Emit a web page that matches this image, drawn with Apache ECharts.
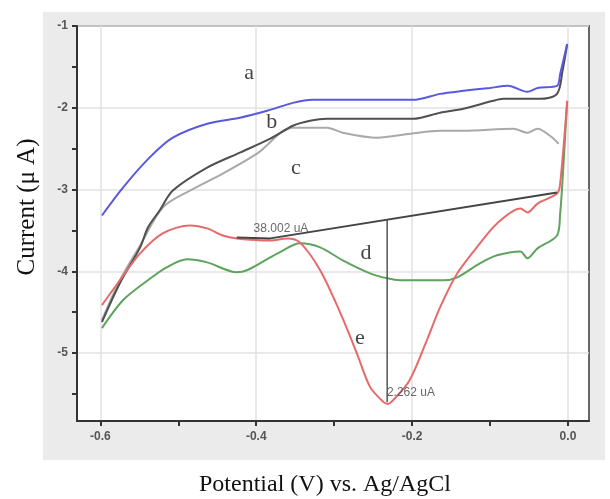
<!DOCTYPE html>
<html>
<head>
<meta charset="utf-8">
<script src="https://cdn.jsdelivr.net/npm/echarts@6/dist/echarts.min.js"></script>
<style>html,body{margin:0;padding:0;background:#fff;}#c{width:610px;height:499px;}</style>
</head>
<body>
<div id="c"></div>
<script>
// Potential (V) , Current (uA) pairs
const curveA = [[-0.598,-3.317],[-0.571,-2.976],[-0.537,-2.610],[-0.507,-2.366],[-0.463,-2.196],[-0.421,-2.122],[-0.386,-2.037],[-0.353,-1.940],[-0.327,-1.903],[-0.303,-1.903],[-0.199,-1.903],[-0.164,-1.830],[-0.134,-1.793],[-0.100,-1.757],[-0.077,-1.732],[-0.052,-1.805],[-0.039,-1.757],[-0.014,-1.732],[-0.010,-1.586],[-0.001,-1.220]];
const curveB = [[-0.598,-4.621],[-0.575,-4.146],[-0.549,-3.707],[-0.539,-3.463],[-0.524,-3.256],[-0.507,-3.012],[-0.463,-2.732],[-0.421,-2.549],[-0.382,-2.378],[-0.353,-2.220],[-0.331,-2.159],[-0.309,-2.135],[-0.199,-2.135],[-0.164,-2.061],[-0.134,-2.013],[-0.096,-1.915],[-0.083,-1.891],[-0.036,-1.891],[-0.014,-1.830],[-0.007,-1.550],[-0.001,-1.220]];
const curveC = [[-0.598,-4.597],[-0.575,-4.109],[-0.549,-3.683],[-0.520,-3.219],[-0.485,-3.012],[-0.443,-2.805],[-0.399,-2.561],[-0.353,-2.244],[-0.309,-2.244],[-0.289,-2.305],[-0.245,-2.366],[-0.202,-2.317],[-0.164,-2.281],[-0.134,-2.281],[-0.070,-2.256],[-0.052,-2.305],[-0.039,-2.256],[-0.023,-2.342],[-0.012,-2.439]];
const curveD = [[-0.598,-4.694],[-0.571,-4.353],[-0.539,-4.109],[-0.515,-3.951],[-0.489,-3.853],[-0.463,-3.890],[-0.425,-4.012],[-0.412,-3.987],[-0.382,-3.829],[-0.370,-3.768],[-0.344,-3.658],[-0.318,-3.707],[-0.289,-3.865],[-0.254,-4.024],[-0.232,-4.085],[-0.215,-4.109],[-0.160,-4.109],[-0.142,-4.073],[-0.113,-3.902],[-0.091,-3.804],[-0.061,-3.756],[-0.052,-3.841],[-0.039,-3.719],[-0.014,-3.561],[-0.010,-3.293],[-0.007,-2.890],[-0.001,-1.915]];
const curveE = [[-0.598,-4.414],[-0.575,-4.109],[-0.549,-3.780],[-0.520,-3.536],[-0.485,-3.439],[-0.463,-3.475],[-0.443,-3.561],[-0.425,-3.597],[-0.382,-3.622],[-0.360,-3.597],[-0.344,-3.646],[-0.318,-3.987],[-0.292,-4.511],[-0.271,-4.999],[-0.254,-5.413],[-0.237,-5.596],[-0.231,-5.621],[-0.224,-5.572],[-0.203,-5.328],[-0.181,-4.841],[-0.164,-4.438],[-0.142,-4.024],[-0.113,-3.658],[-0.091,-3.414],[-0.061,-3.232],[-0.052,-3.280],[-0.039,-3.171],[-0.014,-3.049],[-0.010,-2.927],[-0.001,-1.915]];
const baseLine = [[-0.425,-3.585],[-0.382,-3.597],[-0.014,-3.037]];
const peakLine = [[-0.232,-3.369],[-0.232,-5.600]];
const curveLabels = [[-0.409,-1.574,'a'],[-0.380,-2.171,'b'],[-0.349,-2.744,'c'],[-0.259,-3.780,'d'],[-0.267,-4.816,'e']];
const noteLabels = [[-0.404,-3.475,'38.002 uA'],[-0.233,-5.487,'2.262 uA']];
const xMajor = [-0.6,-0.4,-0.2,0.0];
const xAllTicks = [-0.6,-0.5,-0.4,-0.3,-0.2,-0.1,0.0];
const yMajor = [-5,-4,-3,-2,-1];
const yAllTicks = [-5.5,-5,-4.5,-4,-3.5,-3,-2.5,-2,-1.5,-1];
const xRange = [-0.630, 0.027];
const yRange = [-5.83, -1];
const xTitle = 'Potential (V) vs. Ag/AgCl';
const yTitle = 'Current (\u03bc A)';

const chart = echarts.init(document.getElementById('c'), null, {renderer:'canvas'});
const tickFont = {fontFamily:'Liberation Sans, Arial, sans-serif', fontSize:12, fontWeight:'bold', color:'#555'};
function lineSeries(data, color, width, z){
  return {type:'line', data:data, showSymbol:false, symbol:'none', smooth:0.3,
    lineStyle:{color:color, width:width}, z:z||2, animation:false, silent:true};
}
const option = {
  animation:false,
  graphic:[
    {type:'rect', z:-100, shape:{x:43,y:12,width:562,height:448}, style:{fill:'#ebebeb'}},
    {type:'text', x:27, y:207, rotation:Math.PI/2, style:{text:yTitle, font:'25px "Liberation Serif", "Times New Roman", serif', fill:'#111', align:'center', verticalAlign:'middle'}},
    {type:'text', x:325, y:485, style:{text:xTitle, font:'24px "Liberation Serif", "Times New Roman", serif', fill:'#111', align:'center', verticalAlign:'middle'}}
  ],
  grid:{left:77, top:26, right:21, bottom:78, show:true, backgroundColor:'#fff', borderColor:'#666', borderWidth:2},
  xAxis:[
    {type:'value', min:xRange[0], max:xRange[1], splitNumber:3,
     axisLine:{show:true, onZero:false, lineStyle:{color:'#333', width:2}},
     axisTick:{show:true, length:5, customValues:xAllTicks, lineStyle:{color:'#333', width:2}},
     axisLabel:{customValues:xMajor, margin:10, formatter:v=>v.toFixed(1), ...tickFont},
     splitLine:{show:false}},
    {type:'value', min:xRange[0], max:xRange[1], splitNumber:3, position:'bottom',
     axisLine:{show:false}, axisLabel:{show:false},
     axisTick:{show:false, customValues:xMajor},
     splitLine:{show:true, lineStyle:{color:'#e2e2e2', width:1.5}}}
  ],
  yAxis:[
    {type:'value', min:yRange[0], max:yRange[1], splitNumber:5,
     axisLine:{show:true, onZero:false, lineStyle:{color:'#333', width:2}},
     axisTick:{show:true, length:5, customValues:yAllTicks, lineStyle:{color:'#333', width:2}},
     axisLabel:{customValues:yMajor, margin:9, formatter:v=>String(v), ...tickFont},
     splitLine:{show:false}},
    {type:'value', min:yRange[0], max:yRange[1], splitNumber:5,
     axisLine:{show:false}, axisLabel:{show:false},
     axisTick:{show:false, customValues:yMajor},
     splitLine:{show:true, lineStyle:{color:'#e2e2e2', width:1.5}}}
  ],
  series:[
    lineSeries(curveC, '#a9a9a9', 2, 2),
    lineSeries(curveB, '#505050', 2, 3),
    lineSeries(curveA, '#5858e0', 2, 3),
    lineSeries(curveD, '#5ea35e', 2, 3),
    lineSeries(curveE, '#e66a6a', 2, 4),
    {type:'line', data:baseLine, showSymbol:false, symbol:'none', lineStyle:{color:'#444', width:2}, z:5, silent:true},
    {type:'line', data:peakLine, showSymbol:false, symbol:'none', lineStyle:{color:'#555', width:1.5}, z:5, silent:true},
    {type:'scatter', data:curveLabels, symbolSize:1, itemStyle:{color:'rgba(0,0,0,0)'}, z:6, silent:true,
     label:{show:true, position:'inside', formatter:p=>p.data[2], fontFamily:'Liberation Serif, Times New Roman, serif', fontSize:22, color:'#111'}},
    {type:'scatter', data:noteLabels, symbolSize:1, itemStyle:{color:'rgba(0,0,0,0)'}, z:6, silent:true,
     label:{show:true, position:'right', distance:0, formatter:p=>p.data[2], fontFamily:'Liberation Sans, Arial, sans-serif', fontSize:12, color:'#444'}}
  ]
};
chart.setOption(option);
</script>
</body>
</html>
